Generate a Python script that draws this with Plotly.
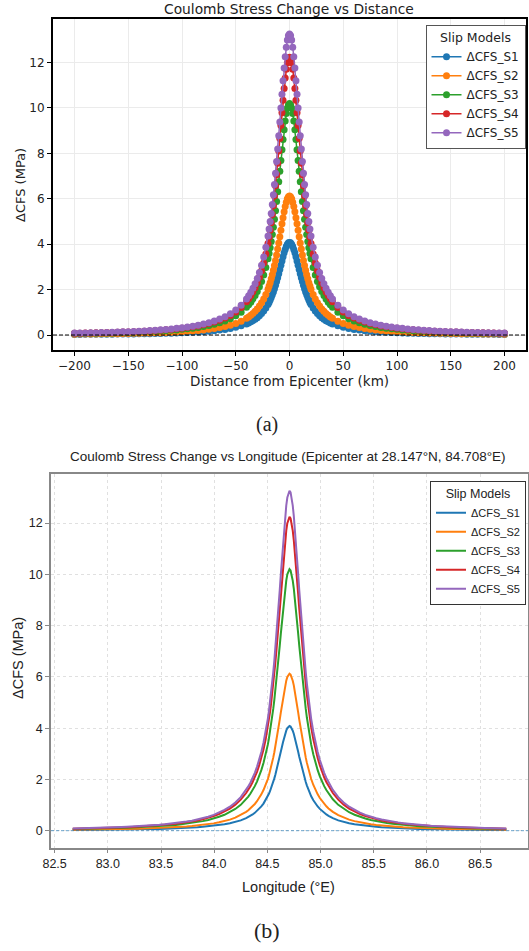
#Coulomb stress change profiles for 5 slip models, shown vs distance (a) and vs longitude (b)
import math
import plotly.graph_objects as go

#%%
#distance from the epicentre (km), one side only - the profiles are symmetric about 0
dist_half = [0, 1, 2, 3, 4, 5, 6, 7, 8, 9, 10,
             11, 12, 13, 14, 15, 16, 17, 18, 19, 20,
             22, 24, 26, 28, 30, 32, 34, 36, 38, 40,
             45, 50, 55, 60, 65, 70, 75, 80, 85, 90, 95, 100,
             105, 110, 115, 120, 125, 130, 135, 140, 145, 150, 155, 160,
             165, 170, 175, 180, 185, 190, 195, 200]

#delta CFS (MPa) at the distances above
s1_half = [4.080, 4.059, 3.998, 3.901, 3.772, 3.619, 3.447, 3.264, 3.076, 2.887, 2.702,
           2.523, 2.352, 2.191, 2.040, 1.899, 1.769, 1.649, 1.538, 1.436, 1.342,
           1.188, 1.057, 0.945, 0.849, 0.766, 0.695, 0.633, 0.579, 0.532, 0.490,
           0.403, 0.338, 0.288, 0.248, 0.217, 0.190, 0.168, 0.149, 0.133, 0.120, 0.109, 0.100,
           0.091, 0.083, 0.076, 0.070, 0.065, 0.060, 0.056, 0.052, 0.049, 0.046, 0.043, 0.040,
           0.038, 0.035, 0.034, 0.032, 0.030, 0.029, 0.027, 0.026]
s2_half = [6.120, 6.089, 5.998, 5.851, 5.658, 5.428, 5.170, 4.896, 4.613, 4.331, 4.053,
           3.784, 3.528, 3.286, 3.060, 2.849, 2.654, 2.473, 2.307, 2.154, 2.013,
           1.782, 1.585, 1.417, 1.273, 1.149, 1.042, 0.950, 0.868, 0.797, 0.734,
           0.605, 0.507, 0.431, 0.373, 0.326, 0.285, 0.252, 0.223, 0.200, 0.181, 0.164, 0.149,
           0.136, 0.124, 0.114, 0.105, 0.097, 0.091, 0.084, 0.078, 0.073, 0.069, 0.064, 0.061,
           0.056, 0.053, 0.051, 0.048, 0.045, 0.043, 0.040, 0.039]
s3_half = [10.200, 10.148, 9.996, 9.752, 9.430, 9.046, 8.617, 8.160, 7.689, 7.218, 6.754,
           6.307, 5.880, 5.477, 5.100, 4.748, 4.423, 4.122, 3.844, 3.589, 3.355,
           2.970, 2.642, 2.361, 2.122, 1.915, 1.737, 1.583, 1.447, 1.329, 1.224,
           1.008, 0.846, 0.719, 0.621, 0.543, 0.475, 0.419, 0.372, 0.334, 0.301, 0.273, 0.249,
           0.226, 0.207, 0.191, 0.175, 0.162, 0.151, 0.140, 0.131, 0.121, 0.114, 0.107, 0.101,
           0.094, 0.089, 0.085, 0.080, 0.075, 0.071, 0.067, 0.065]
s4_half = [12.240, 12.178, 11.995, 11.703, 11.316, 10.856, 10.340, 9.792, 9.227, 8.661, 8.105,
           7.568, 7.056, 6.573, 6.120, 5.698, 5.307, 4.946, 4.613, 4.307, 4.026,
           3.564, 3.170, 2.834, 2.546, 2.297, 2.084, 1.900, 1.737, 1.595, 1.469,
           1.209, 1.015, 0.863, 0.745, 0.651, 0.570, 0.503, 0.447, 0.400, 0.361, 0.328, 0.299,
           0.272, 0.248, 0.229, 0.211, 0.195, 0.181, 0.168, 0.157, 0.146, 0.137, 0.129, 0.121,
           0.113, 0.106, 0.102, 0.095, 0.091, 0.086, 0.081, 0.078]
s5_half = [13.260, 13.192, 12.995, 12.678, 12.259, 11.760, 11.202, 10.608, 9.995, 9.383, 8.781,
           8.199, 7.644, 7.121, 6.630, 6.173, 5.750, 5.358, 4.998, 4.666, 4.361,
           3.861, 3.434, 3.070, 2.758, 2.489, 2.258, 2.058, 1.882, 1.728, 1.591,
           1.310, 1.099, 0.935, 0.808, 0.705, 0.618, 0.545, 0.484, 0.434, 0.391, 0.355, 0.324,
           0.294, 0.269, 0.248, 0.228, 0.211, 0.196, 0.182, 0.170, 0.158, 0.149, 0.139, 0.131,
           0.122, 0.115, 0.110, 0.103, 0.098, 0.093, 0.088, 0.085]

epi_lat = 28.147
epi_lon = 84.708

model_names = ['ΔCFS_S1', 'ΔCFS_S2', 'ΔCFS_S3', 'ΔCFS_S4', 'ΔCFS_S5']
model_colors = ['#1f77b4', '#ff7f0e', '#2ca02c', '#d62728', '#9467bd']

dist_ticks = [-200, -150, -100, -50, 0, 50, 100, 150, 200]
lon_ticks = [82.5, 83.0, 83.5, 84.0, 84.5, 85.0, 85.5, 86.0, 86.5]
cfs_ticks = [0, 2, 4, 6, 8, 10, 12]

#%%
#mirror the half profiles to get the full -200..200 km profile
dist = [-d for d in reversed(dist_half[1:])] + dist_half
series = []
for half in [s1_half, s2_half, s3_half, s4_half, s5_half]:
    series.append(list(reversed(half[1:])) + half)

#km to degrees of longitude at the epicentre latitude
km_per_deg = 111.32*math.cos(math.radians(epi_lat))
lon = [epi_lon + d/km_per_deg for d in dist]

#%%
W, H = 529, 951
def px(x):
    return x/W
def py(y):
    return 1 - y/H

top_font = 'DejaVu Sans'
#the lower panel in the original uses a narrower face
bot_font = 'Liberation Sans, Arial, sans-serif'

fig = go.Figure()
for name, color, vals in zip(model_names, model_colors, series):
    fig.add_trace(go.Scatter(x=dist, y=vals, name=name, mode='lines+markers',
                             line=dict(color=color, width=1.5), marker=dict(color=color, size=7),
                             xaxis='x', yaxis='y', legend='legend'))
for name, color, vals in zip(model_names, model_colors, series):
    fig.add_trace(go.Scatter(x=lon, y=vals, name=name, mode='lines',
                             line=dict(color=color, width=2),
                             xaxis='x2', yaxis='y2', legend='legend2'))

top_axis = dict(showgrid=True, gridcolor='#ebebeb', gridwidth=1,
                showline=True, linecolor='black', linewidth=2, mirror=True,
                ticks='outside', ticklen=4, tickwidth=1.2, tickcolor='black', zeroline=False,
                automargin=False, tickfont=dict(family=top_font, size=12, color='#222'))
bot_axis = dict(showgrid=True, gridcolor='#e0e0e0', griddash='3px,3px', gridwidth=1,
                showline=True, linecolor='#888', linewidth=1.5, mirror=True,
                ticks='outside', ticklen=4, tickwidth=1, tickcolor='#888', zeroline=False,
                automargin=False, tickfont=dict(family=bot_font, size=12.5, color='#222'))

fig.update_layout(
    width=W, height=H, autosize=False,
    margin=dict(l=0, r=0, t=0, b=0, autoexpand=False),
    paper_bgcolor='white', plot_bgcolor='white',
    showlegend=True,
    xaxis=dict(domain=[px(53), px(526)], range=[-220, 220], anchor='y', tickvals=dist_ticks, **top_axis),
    yaxis=dict(domain=[py(350), py(19)], range=[-0.66, 13.92], anchor='x', tickvals=cfs_ticks, **top_axis),
    xaxis2=dict(domain=[px(51), px(528)], range=[82.466, 86.95], anchor='y2',
                tickvals=lon_ticks, ticktext=['%.1f' % t for t in lon_ticks], **bot_axis),
    yaxis2=dict(domain=[py(847.6), py(473.8)], range=[-0.66, 13.92], anchor='x2', tickvals=cfs_ticks, **bot_axis),
    legend=dict(x=px(525.5), y=py(25), xanchor='right', yanchor='top',
                bgcolor='white', bordercolor='#555', borderwidth=1,
                font=dict(family=top_font, size=12, color='#222'),
                title=dict(text='Slip Models', side='top center', font=dict(family=top_font, size=12.5, color='#222'))),
    legend2=dict(x=px(526), y=py(481), xanchor='right', yanchor='top',
                 bgcolor='white', bordercolor='#333', borderwidth=1,
                 font=dict(family=bot_font, size=11, color='#222'),
                 title=dict(text='Slip Models', side='top center', font=dict(family=bot_font, size=12.5, color='#222'))),
)

#zero reference lines
fig.add_shape(type='line', xref='x domain', yref='y', x0=0, x1=1, y0=0, y1=0,
              line=dict(color='black', width=1, dash='4px,2px'))
fig.add_shape(type='line', xref='x2 domain', yref='y2', x0=0, x1=1, y0=0, y1=0,
              line=dict(color='rgba(31,119,180,0.65)', width=1, dash='3px,2px'))

#titles and captions as annotations so they sit where the original has them
texts = [
    ('Coulomb Stress Change vs Distance', 289, 9, top_font, 13.8, 0),
    ('Distance from Epicenter (km)', 289, 381, top_font, 13.5, 0),
    ('ΔCFS (MPa)', 20, 185, top_font, 13, -90),
    ('(a)', 267, 424, 'Liberation Serif, DejaVu Serif', 20, 0),
    ('Coulomb Stress Change vs Longitude (Epicenter at 28.147°N, 84.708°E)', 288, 456, bot_font, 13.5, 0),
    ('Longitude (°E)', 288, 887, bot_font, 14.5, 0),
    ('ΔCFS (MPa)', 18, 658, bot_font, 14.5, -90),
    ('(b)', 267, 930, 'Liberation Serif, DejaVu Serif', 22, 0),
]
for text, x, y, family, size, angle in texts:
    fig.add_annotation(text=text, x=px(x), y=py(y), xref='paper', yref='paper',
                       xanchor='center', yanchor='middle', showarrow=False, textangle=angle,
                       font=dict(family=family, size=size, color='#222'))

#drop the default page margin so the figure fills the window
fig.write_html('out.html', config={'displayModeBar': False},
               post_script="document.body.style.margin='0';document.body.style.overflow='hidden';")
